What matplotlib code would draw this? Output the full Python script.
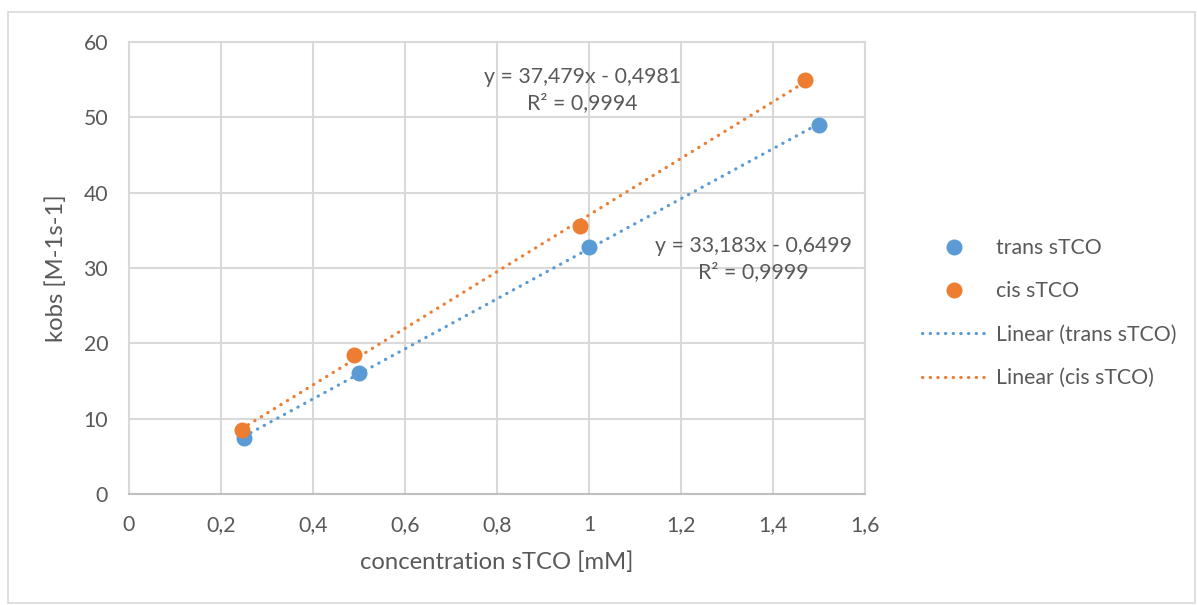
import numpy as np
import matplotlib.pyplot as plt
from matplotlib.ticker import FuncFormatter, MultipleLocator
from matplotlib.patches import Rectangle

plt.rcParams['font.family'] = ['Lato', 'DejaVu Sans']

# data
trans_x = [0.25, 0.5, 1.0, 1.5]
trans_y = [7.5, 16.0, 32.8, 49.0]
cis_x = [0.245, 0.49, 0.98, 1.47]
cis_y = [8.5, 18.4, 35.6, 55.0]

trans_eq = 'y = 33,183x - 0,6499\nR² = 0,9999'
cis_eq = 'y = 37,479x - 0,4981\nR² = 0,9994'

blue = '#5B9BD5'
orange = '#ED7D31'
txt = '#595959'
grid = '#D9D9D9'
fs = 15.3
fs_title = 17.2

fig = plt.figure(figsize=(11.97, 6.05), dpi=100)
ax = fig.add_axes([129/1197, 1-494/605, (865-129)/1197, (494-42)/605])

# chart border
fig.patches.append(Rectangle((8/1197, 0.003), 1187/1197, 1-12/605-0.003,
                             transform=fig.transFigure, fill=False,
                             edgecolor=grid, linewidth=1.2))

def trend(x, y):
    k, b = np.polyfit(x, y, 1)
    xs = np.array([min(x), max(x)])
    return xs, k*xs + b

for xs, ys, c, name in [(trans_x, trans_y, blue, 'trans sTCO'),
                        (cis_x, cis_y, orange, 'cis sTCO')]:
    ax.plot(xs, ys, 'o', color=c, markersize=10.5, label=name, zorder=4)

for xs, ys, c, name in [(trans_x, trans_y, blue, 'Linear (trans sTCO)'),
                        (cis_x, cis_y, orange, 'Linear (cis sTCO)')]:
    lx, ly = trend(xs, ys)
    ax.plot(lx, ly, color=c, linewidth=2.3, linestyle=(0, (0.1, 2.3)),
            dash_capstyle='round', label=name, zorder=3)

ax.text(0.985, 53.6, cis_eq, ha='center', va='center', multialignment='center',
        fontsize=fs, color=txt, linespacing=1.35)
ax.text(1.357, 31.2, trans_eq, ha='center', va='center', multialignment='center',
        fontsize=fs, color=txt, linespacing=1.35)

ax.set_xlim(0, 1.6)
ax.set_ylim(0, 60)
ax.xaxis.set_major_locator(MultipleLocator(0.2))
ax.yaxis.set_major_locator(MultipleLocator(10))
comma = FuncFormatter(lambda v, p: f'{round(v, 2):g}'.replace('.', ','))
ax.xaxis.set_major_formatter(comma)
ax.yaxis.set_major_formatter(comma)
ax.grid(True, color=grid, linewidth=1.5)
ax.set_axisbelow(True)
for s in ax.spines.values():
    s.set_color(grid)
    s.set_linewidth(1.5)
ax.spines['bottom'].set_color('#BFBFBF')
ax.tick_params(length=0, labelsize=fs, labelcolor=txt)
ax.tick_params(axis='y', pad=15)
ax.tick_params(axis='x', pad=15)

ax.set_xlabel('concentration sTCO [mM]', fontsize=fs_title, color=txt, labelpad=12)
ax.set_ylabel('kobs [M-1s-1]', fontsize=fs_title, color=txt, labelpad=12)

fig.legend(loc='center left', bbox_to_anchor=(903/1197, 1-313/605), frameon=False,
           fontsize=fs, labelcolor=txt, handlelength=3.0, handletextpad=0.5,
           labelspacing=1.1, borderpad=0.4)

plt.savefig('out.png', dpi=100)
